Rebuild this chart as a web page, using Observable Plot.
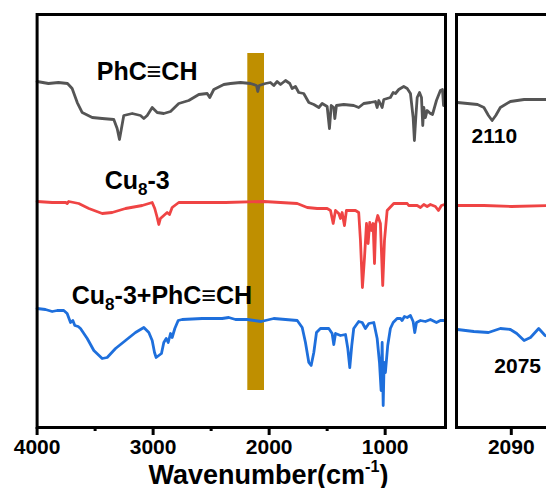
<!DOCTYPE html>
<html><head><meta charset="utf-8">
<script src="https://cdn.jsdelivr.net/npm/d3@7"></script>
<script src="https://cdn.jsdelivr.net/npm/@observablehq/plot@0.6"></script>
<style>
html,body{margin:0;padding:0;background:#fff;}
#chart{position:relative;width:546px;height:488px;overflow:hidden;background:#fff;}
#chart svg{position:absolute;top:0;}
</style></head><body><div id="chart"></div>
<script>
// IR spectra: [wavenumber (cm-1), offset transmittance (a.u.)]
const phcch = [[4000,351],[3902,349],[3816,350],[3738,349],[3698,344],[3654,330],[3611,320],[3525,315],[3439,314],[3339,313],[3310,304],[3290,293],[3273,304],[3253,317],[3180,319],[3109,317],[3080,314],[3051,317],[3008,325],[2965,320],[2908,319],[2850,321],[2779,329],[2693,332],[2606,338],[2534,339],[2512,335],[2477,343],[2391,348],[2333,349],[2247,350],[2161,349],[2109,347],[2098,341],[2086,347],[2032,349],[1989,350],[1960,347],[1931,351],[1902,348],[1859,352],[1822,349],[1802,344],[1773,346],[1745,340],[1702,339],[1658,330],[1615,328],[1572,325],[1543,329],[1500,326],[1480,304],[1465,327],[1443,325],[1434,314],[1420,327],[1357,328],[1271,327],[1228,325],[1185,329],[1127,330],[1084,331],[1069,325],[1055,332],[1026,325],[1012,333],[955,335],[931,340],[911,339],[883,343],[840,346],[810,344],[782,339],[759,315],[748,292],[736,315],[724,335],[704,340],[687,335],[676,307],[667,325],[653,315],[638,322],[610,319],[592,318],[558,332],[524,342],[506,343],[497,327]];
const cu8 = [[4000,231],[3870,230],[3755,230],[3741,229],[3727,231],[3641,229],[3554,224],[3439,219],[3353,220],[3238,224],[3094,227],[3008,230],[2986,224],[2965,215],[2951,208],[2937,214],[2908,217],[2879,220],[2859,218],[2836,225],[2779,230],[2577,230],[2376,230],[2046,231],[1758,229],[1672,225],[1586,224],[1500,224],[1471,222],[1448,209],[1428,222],[1400,219],[1385,214],[1371,220],[1351,207],[1334,222],[1256,222],[1228,220],[1213,192],[1196,145],[1178,175],[1161,209],[1147,189],[1133,210],[1118,202],[1104,209],[1092,169],[1081,209],[1064,217],[1041,209],[1021,147],[1006,192],[983,222],[926,229],[810,229],[797,227],[724,227],[696,225],[667,228],[638,226],[610,228],[567,226],[541,222],[515,227],[489,228]];
const cu8phcch = [[4000,124],[3928,123],[3870,121],[3827,122],[3770,122],[3741,119],[3712,110],[3692,112],[3675,107],[3646,106],[3626,104],[3568,94],[3511,82],[3439,74],[3396,75],[3324,84],[3238,92],[3152,100],[3080,105],[3037,100],[3008,92],[2988,80],[2974,75],[2951,77],[2928,79],[2908,90],[2887,94],[2870,90],[2850,99],[2836,95],[2813,104],[2784,112],[2750,113],[2577,114],[2405,114],[2348,115],[2290,113],[2189,113],[2069,111],[1960,114],[1758,112],[1715,105],[1687,90],[1658,70],[1638,67],[1615,80],[1592,100],[1558,104],[1486,104],[1457,99],[1443,88],[1428,99],[1385,97],[1342,98],[1322,84],[1305,65],[1288,87],[1271,104],[1228,111],[1198,110],[1170,104],[1141,109],[1098,110],[1069,94],[1049,70],[1035,42],[1026,90],[1017,27],[1009,70],[998,60],[978,87],[955,104],[931,110],[897,114],[868,114],[854,112],[834,116],[810,115],[782,117],[759,111],[745,100],[730,110],[696,112],[653,111],[610,113],[558,110],[524,112],[489,112]];
// zoomed panel (alkyne region)
const phcchZoom = [[2149,330],[2127,328],[2120,325],[2115,317],[2111,312],[2107,317],[2102,325],[2091,331],[2076,333],[2053,333],[2050,333]];
const cu8Zoom = [[2150,227],[2120,227],[2090,226],[2050,227]];
const cu8phcchZoom = [[2149,103],[2131,101],[2115,100],[2102,104],[2091,103],[2084,99],[2076,92],[2069,95],[2060,104],[2056,100],[2053,97],[2050,96]];
// highlighted band (wavenumber range, signal range)
const bandX = [2184, 2040];
const bandY = [42, 379];
// ticks & labels
const majorTicks = [4000, 3000, 2000, 1000];
const minorTicks = [3500, 2500, 1500];
const zoomTicks = [2090];
const seriesNames = ["PhC≡CH", "Cu_{8}-3", "Cu_{8}-3+PhC≡CH"];
const peakLabels = ["2110", "2075"];
const axisTitle = "Wavenumber(cm^{-1})";

const FONT = "'Liberation Sans', Arial, Helvetica, sans-serif";
const colors = {gray: "#555555", red: "#EF4444", blue: "#1E6FDC", band: "#BF8F00"};
const yDomain = [5, 418];
const lineOpts = (stroke) => ({x: d => d[0], y: d => d[1], stroke, strokeWidth: 2.8, strokeLinejoin: "round"});
const label = (t, x, y, size) => Plot.text([t], {x: () => x, y: () => y, text: d => d, fontSize: size, fontWeight: "bold", fill: "black", textAnchor: "middle", lineAnchor: "bottom"});

const left = Plot.plot({
  width: 450, height: 488,
  marginLeft: 36.6, marginRight: 5, marginTop: 14, marginBottom: 61,
  x: {domain: [4000, 480]},
  y: {domain: yDomain, axis: null},
  style: {fontFamily: FONT, fontWeight: "bold", background: "transparent", overflow: "visible"},
  marks: [
    Plot.rect([0], {x1: () => bandX[0], x2: () => bandX[1], y1: () => bandY[0], y2: () => bandY[1], fill: colors.band}),
    Plot.line(phcch, lineOpts(colors.gray)),
    Plot.line(cu8, lineOpts(colors.red)),
    Plot.line(cu8phcch, lineOpts(colors.blue)),
    Plot.frame({stroke: "black", strokeWidth: 3}),
    Plot.axisX(majorTicks, {tickSize: 8, tickPadding: 4, strokeWidth: 3, stroke: "black", fontSize: 21, fontWeight: "bold", fill: "black", label: null, tickFormat: d => String(d)}),
    Plot.axisX(minorTicks, {tickSize: 4, strokeWidth: 3, stroke: "black", label: null, tickFormat: () => ""}),
    label(seriesNames[0], 3052, 353, 25),
    label(seriesNames[1], 3137, 244, 25),
    label(seriesNames[2], 2924, 129, 25),
    label(axisTitle, 2006, -51, 27)
  ]
});

const right = Plot.plot({
  width: 200, height: 488,
  marginLeft: 10, marginRight: 53, marginTop: 14, marginBottom: 61,
  x: {domain: [2150, 2000]},
  y: {domain: yDomain, axis: null},
  style: {fontFamily: FONT, fontWeight: "bold", background: "transparent", overflow: "visible"},
  marks: [
    Plot.line(phcchZoom, lineOpts(colors.gray)),
    Plot.line(cu8Zoom, lineOpts(colors.red)),
    Plot.line(cu8phcchZoom, lineOpts(colors.blue)),
    Plot.frame({stroke: "black", strokeWidth: 3}),
    Plot.axisX(zoomTicks, {tickSize: 8, tickPadding: 4, strokeWidth: 3, stroke: "black", fontSize: 21, fontWeight: "bold", fill: "black", label: null, tickFormat: d => String(d)}),
    label(peakLabels[0], 2108.5, 290, 21),
    label(peakLabels[1], 2083, 60, 21)
  ]
});

const chart = document.getElementById("chart");
left.style.left = "0px";
right.style.left = "446px";
chart.appendChild(left);
chart.appendChild(right);

function richText(svg) {
  const ns = "http://www.w3.org/2000/svg";
  svg.querySelectorAll("text").forEach(t => {
    const s = t.textContent;
    if (!/[_^]\{/.test(s)) return;
    const fs = parseFloat(getComputedStyle(t).fontSize) || 20;
    while (t.firstChild) t.removeChild(t.firstChild);
    const parts = s.split(/([_^]\{[^}]*\})/).filter(p => p);
    let cur = 0;
    parts.forEach(p => {
      const ts = document.createElementNS(ns, "tspan");
      let target = 0, txt = p;
      if (p.startsWith("_{")) { target = 0.25 * fs; txt = p.slice(2, -1); ts.setAttribute("font-size", (0.68 * fs) + "px"); }
      else if (p.startsWith("^{")) { target = -0.42 * fs; txt = p.slice(2, -1); ts.setAttribute("font-size", (0.6 * fs) + "px"); }
      const dy = target - cur;
      if (dy) ts.setAttribute("dy", dy + "px");
      cur = target;
      ts.textContent = txt;
      t.appendChild(ts);
    });
  });
}
richText(left);
richText(right);
</script>
</body></html>
